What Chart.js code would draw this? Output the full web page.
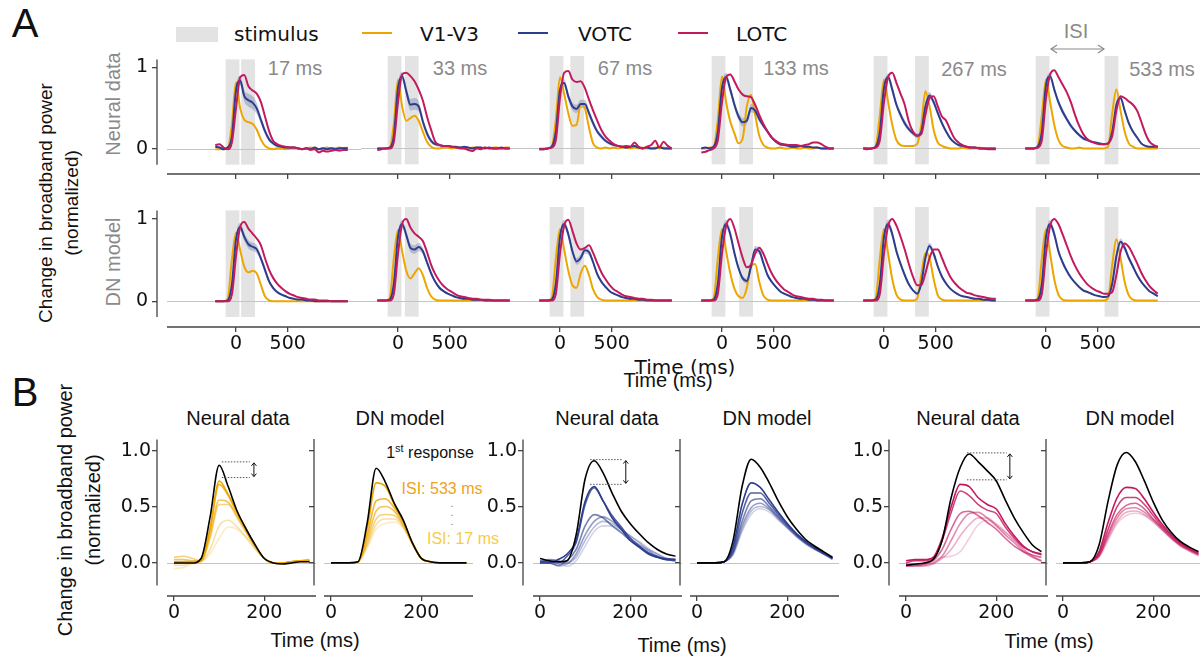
<!DOCTYPE html>
<html>
<head>
<meta charset="utf-8">
<script src="https://cdn.jsdelivr.net/npm/chart.js@4.4.1/dist/chart.umd.min.js"></script>
<style>
  body { margin: 0; background: #fff; }
  #fig { position: relative; width: 1200px; height: 657px; overflow: hidden; font-family: 'Liberation Sans', Arial, sans-serif; color: #111; }
  canvas { position: absolute; }
  .t { position: absolute; white-space: nowrap; line-height: 1; }
  .c { transform: translate(-50%, -50%); }
  .r { transform: translate(-50%, -50%) rotate(-90deg); }
  .lc { transform: translateY(-50%); }
  .dv { font-family: 'DejaVu Sans', sans-serif; }
  .gray { color: #8a8a8a; }
</style>
</head>
<body>
<div id="fig">
  <div class="t c" style="left:25px;top:23px;font-size:40px">A</div>
  <div class="t c" style="left:25px;top:392px;font-size:40px">B</div>

  <!-- legend -->
  <div class="t" style="left:176px;top:27px;width:42px;height:15px;background:#e3e3e3"></div>
  <div class="t lc dv" style="left:234px;top:34px;font-size:20px">stimulus</div>
  <div class="t" style="left:362px;top:32px;width:30px;height:2px;background:#EDA600"></div>
  <div class="t lc dv" style="left:420px;top:34px;font-size:20px">V1-V3</div>
  <div class="t" style="left:518px;top:32px;width:30px;height:2px;background:#2D3D8E"></div>
  <div class="t lc dv" style="left:578px;top:34px;font-size:20px">VOTC</div>
  <div class="t" style="left:678px;top:32px;width:30px;height:2px;background:#C31A5E"></div>
  <div class="t lc dv" style="left:736px;top:34px;font-size:20px">LOTC</div>

  <!-- panel A labels -->
  <div class="t r" style="left:45px;top:203px;font-size:19px">Change in broadband power</div>
  <div class="t r" style="left:71px;top:203px;font-size:19px">(normalized)</div>
  <div class="t r gray" style="left:113px;top:104px;font-size:20px">Neural data</div>
  <div class="t r gray" style="left:113px;top:262px;font-size:20px">DN model</div>
  <div class="t c gray" style="left:295px;top:68px;font-size:20px">17 ms</div>
  <div class="t c gray" style="left:460px;top:68px;font-size:20px">33 ms</div>
  <div class="t c gray" style="left:625px;top:68px;font-size:20px">67 ms</div>
  <div class="t c gray" style="left:796px;top:68px;font-size:20px">133 ms</div>
  <div class="t c gray" style="left:974px;top:69px;font-size:20px">267 ms</div>
  <div class="t c gray" style="left:1162px;top:69px;font-size:20px">533 ms</div>
  <div class="t c gray" style="left:1076px;top:31px;font-size:20px">ISI</div>
  <svg style="position:absolute;left:1048px;top:43px" width="60" height="12">
    <line x1="3" y1="6" x2="56" y2="6" stroke="#8a8a8a" stroke-width="1.2"/>
    <polyline points="9,2 3,6 9,10" fill="none" stroke="#8a8a8a" stroke-width="1.2"/>
    <polyline points="50,2 56,6 50,10" fill="none" stroke="#8a8a8a" stroke-width="1.2"/>
  </svg>
  <div class="t c dv" style="left:685px;top:367px;font-size:20px">Time (ms)</div>
  <div class="t c" style="left:668px;top:380px;font-size:20px">Time (ms)</div>

  <!-- panel B labels -->
  <div class="t r" style="left:65px;top:510px;font-size:20px">Change in broadband power</div>
  <div class="t r" style="left:93px;top:510px;font-size:20px">(normalized)</div>
  <div class="t c" style="left:238px;top:418px;font-size:20px">Neural data</div>
  <div class="t c" style="left:400px;top:418px;font-size:20px">DN model</div>
  <div class="t c" style="left:607px;top:418px;font-size:20px">Neural data</div>
  <div class="t c" style="left:767px;top:418px;font-size:20px">DN model</div>
  <div class="t c" style="left:968px;top:418px;font-size:20px">Neural data</div>
  <div class="t c" style="left:1130px;top:418px;font-size:20px">DN model</div>
  <div class="t c" style="left:315px;top:640px;font-size:20px">Time (ms)</div>
  <div class="t c" style="left:682px;top:645px;font-size:20px">Time (ms)</div>
  <div class="t c" style="left:1049px;top:641px;font-size:20px">Time (ms)</div>
  <div class="t c" style="left:430px;top:452px;font-size:16px">1<sup style="font-size:11px">st</sup> response</div>
  <div class="t c" style="left:442px;top:489px;font-size:16px;color:#EFA21A">ISI: 533 ms</div>
  <div class="t c" style="left:463px;top:539px;font-size:16px;color:#F6CC45">ISI: 17 ms</div>
  <div class="t c" style="left:452px;top:512px;font-size:10px;color:#777;line-height:0.9">.<br>.<br>.</div>
</div>

<script>
// ---------- data ----------
const tA = [-200,-160,-120,-80,-40,0,40,80,120,160,200,240,280,320,360,400,440,480,520,560,600,640,680,720,760,800,840,880,920,960,1000,1040,1080];
const isiMs = [17, 33, 67, 133, 267, 533];
const stimOnset = -100;
const stimDur = 133;

// Panel A, neural data (rows = ISI 17..533)
const neuralV1 = [
  [0,0,0,0.01,0.3, 0.82,0.5,0.36,0.33,0.31, 0.24,0.12,0.04,0.01,0, 0.01,0.01,0,0.01,0.02, 0.01,0,0.01,0.02,0.01, 0,0.01,0.02,0.01,0.01, 0.02,0.01,0.02],
  [0,0,0,0.01,0.3, 0.82,0.5,0.33,0.36,0.39, 0.33,0.2,0.08,0.02,0, 0,0.01,0.01,0,0.01, 0.01,0,0,0.01,0.01, 0,0.01,0,0.01,0.01, 0,0.01,0.01],
  [0,0,0,0.02,0.35, 0.85,0.65,0.42,0.27,0.28, 0.53,0.48,0.25,0.06,0.01, 0,0.01,0,0.01,0, 0.01,0.01,0,0.01,0, 0.01,0,0,0.01,0, 0.01,0,0],
  [0,0,0.01,0.02,0.35, 0.86,0.55,0.32,0.18,0.06, 0.12,0.5,0.64,0.4,0.15, 0.04,0.01,0,0,0.01, 0,0,0.01,0,0, 0.01,0,0,0.01,0, 0,0,0],
  [0.01,0,0,0.03,0.4, 0.82,0.55,0.28,0.1,0.04, 0.03,0.03,0.03,0.05,0.28, 0.68,0.5,0.22,0.07,0.03, 0.01,0,0,0,0.01, 0,0,0,0.01,0, 0,0,0],
  [0,0,0,0.03,0.4, 0.82,0.55,0.28,0.1,0.03, 0.01,0,0,0.01,0, 0,0,0,0,0, 0.02,0.42,0.7,0.45,0.2, 0.06,0.02,0,0,0, 0,0,0]
];
const neuralVOTC = [
  [0.03,0.02,0,0.02,0.15, 0.72,0.84,0.65,0.6,0.57, 0.5,0.36,0.22,0.12,0.07, 0.04,0.03,0.02,0.02,0.02, 0.01,0,0.01,0,0.02, 0,0.01,0,0.01,0, 0.01,0.01,0.01],
  [0,0,0,0.01,0.15, 0.72,0.86,0.68,0.52,0.53, 0.5,0.32,0.18,0.09,0.05, 0.04,0.03,0.03,0.02,0.02, 0.01,0.02,0.01,0,0.01, 0.01,0,0.01,0,0, 0.01,0,0],
  [-0.01,-0.01,0,0.02,0.2, 0.7,0.78,0.62,0.5,0.47, 0.53,0.53,0.42,0.3,0.2, 0.14,0.09,0.06,0.04,0.03, 0.02,0.01,0.02,0.03,0.01, 0,0.01,0,0,0.02, 0,0,0],
  [0,0.01,0,0.02,0.2, 0.72,0.85,0.7,0.52,0.38, 0.31,0.33,0.48,0.45,0.35, 0.27,0.2,0.13,0.08,0.05, 0.04,0.03,0.02,0.02,0.03, 0.02,0.02,0.01,0.01,0, 0,0,0],
  [0,0,0,0.02,0.2, 0.72,0.85,0.7,0.52,0.4, 0.3,0.23,0.18,0.15,0.2, 0.5,0.63,0.55,0.42,0.3, 0.2,0.12,0.07,0.04,0.03, 0.02,0.01,0.01,0,0, 0,0,0],
  [0,0,0,0.02,0.2, 0.75,0.86,0.7,0.55,0.44, 0.35,0.27,0.21,0.16,0.12, 0.1,0.08,0.07,0.06,0.05, 0.06,0.2,0.52,0.6,0.45, 0.3,0.2,0.13,0.06,0.03, 0.02,0.02,0.02]
];
const neuralLOTC = [
  [0.05,0.06,0.02,0,0.08, 0.5,0.88,0.91,0.77,0.72, 0.68,0.58,0.4,0.22,0.1, 0.06,0.04,0.03,0.02,0.02, 0.01,0,0.01,-0.01,0, -0.04,-0.02,-0.03,-0.02,-0.01, -0.02,-0.01,-0.01],
  [-0.02,-0.01,0,0,0.08, 0.55,0.88,0.9,0.86,0.8, 0.7,0.57,0.38,0.22,0.08, 0.04,0.03,0.03,0.02,0.01, 0,0,-0.02,-0.03,0, -0.01,0.01,0,0,0, 0,0,0],
  [-0.01,-0.01,0,0.01,0.1, 0.6,0.9,0.92,0.82,0.79, 0.8,0.72,0.58,0.45,0.33, 0.22,0.14,0.09,0.05,0.03, 0.02,0.03,0.02,0.07,0.02, 0,0.02,0.04,0.09,0.01, 0.08,0.03,0],
  [-0.05,-0.04,-0.02,0,0.1, 0.55,0.85,0.88,0.8,0.7, 0.64,0.62,0.61,0.52,0.4, 0.29,0.2,0.13,0.09,0.06, 0.05,0.04,0.04,0.04,0.03, 0.04,0.05,0.07,0.07,0.05, 0.02,0,0],
  [0,-0.01,0,0.01,0.1, 0.55,0.85,0.9,0.78,0.65, 0.52,0.32,0.2,0.15,0.17, 0.4,0.6,0.62,0.5,0.38, 0.33,0.22,0.12,0.07,0.04, 0.02,0.01,0.01,0,0, -0.01,-0.01,-0.01],
  [0,0,0,0.01,0.1, 0.6,0.88,0.93,0.85,0.76, 0.67,0.55,0.4,0.27,0.17, 0.11,0.08,0.06,0.05,0.05, 0.06,0.15,0.45,0.62,0.6, 0.56,0.52,0.45,0.32,0.18, 0.08,0.04,0.02]
];
const neuralVOTCsem = [
  [0.01,0.01,0.01,0.01,0.03, 0.05,0.06,0.07,0.08,0.08, 0.07,0.05,0.04,0.03,0.02, 0.02,0.01,0.01,0.01,0.01, 0.01,0.01,0.01,0.01,0.01, 0.01,0.01,0.01,0.01,0.01, 0.01,0.01,0.01],
  [0.01,0.01,0.01,0.01,0.03, 0.05,0.05,0.06,0.07,0.07, 0.06,0.05,0.04,0.03,0.02, 0.02,0.01,0.01,0.01,0.01, 0.01,0.01,0.01,0.01,0.01, 0.01,0.01,0.01,0.01,0.01, 0.01,0.01,0.01],
  [0.01,0.01,0.01,0.01,0.03, 0.04,0.05,0.05,0.05,0.05, 0.05,0.05,0.05,0.04,0.03, 0.03,0.02,0.02,0.01,0.01, 0.01,0.01,0.01,0.01,0.01, 0.01,0.01,0.01,0.01,0.01, 0.01,0.01,0.01],
  [0.01,0.01,0.01,0.01,0.03, 0.04,0.05,0.05,0.05,0.05, 0.05,0.04,0.05,0.05,0.04, 0.03,0.02,0.02,0.01,0.01, 0.01,0.01,0.01,0.01,0.01, 0.01,0.01,0.01,0.01,0.01, 0.01,0.01,0.01],
  [0.01,0.01,0.01,0.01,0.03, 0.04,0.04,0.05,0.04,0.04, 0.04,0.03,0.03,0.03,0.03, 0.04,0.04,0.04,0.03,0.03, 0.02,0.02,0.01,0.01,0.01, 0.01,0.01,0.01,0.01,0.01, 0.01,0.01,0.01],
  [0.01,0.01,0.01,0.01,0.03, 0.04,0.04,0.04,0.04,0.04, 0.03,0.03,0.02,0.02,0.02, 0.02,0.01,0.01,0.01,0.01, 0.01,0.02,0.03,0.03,0.03, 0.03,0.02,0.02,0.01,0.01, 0.01,0.01,0.01]
];

// Panel A, DN model
const modelV1 = [
  [0,0,0,0.03,0.5, 0.83,0.62,0.42,0.35,0.37, 0.34,0.2,0.06,0.01,0, 0,0,0,0,0, 0,0,0,0,0, 0,0,0,0,0, 0,0,0],
  [0,0,0,0.03,0.5, 0.83,0.58,0.35,0.26,0.32, 0.38,0.3,0.15,0.05,0.01, 0,0,0,0,0, 0,0,0,0,0, 0,0,0,0,0, 0,0,0],
  [0,0,0,0.03,0.5, 0.84,0.6,0.35,0.18,0.15, 0.32,0.41,0.3,0.13,0.04, 0.01,0,0,0,0, 0,0,0,0,0, 0,0,0,0,0, 0,0,0],
  [0,0,0,0.03,0.5, 0.84,0.58,0.32,0.14,0.05, 0.03,0.15,0.4,0.43,0.22, 0.06,0.01,0,0,0, 0,0,0,0,0, 0,0,0,0,0, 0,0,0],
  [0,0,0,0.03,0.5, 0.84,0.55,0.25,0.07,0.01, 0,0,0,0.02,0.3, 0.56,0.5,0.25,0.06,0.01, 0,0,0,0,0, 0,0,0,0,0, 0,0,0],
  [0,0,0,0.03,0.5, 0.84,0.55,0.25,0.07,0.01, 0,0,0,0,0, 0,0,0,0,0, 0.03,0.42,0.72,0.5,0.22, 0.06,0.01,0,0,0, 0,0,0]
];
const modelVOTC = [
  [0,0,0,0.01,0.2, 0.75,0.9,0.78,0.69,0.66, 0.63,0.52,0.38,0.24,0.16, 0.11,0.08,0.06,0.04,0.03, 0.02,0.02,0.01,0.01,0, 0,0,0,0,0, 0,0,0],
  [0,0,0,0.01,0.2, 0.75,0.9,0.77,0.62,0.6, 0.63,0.58,0.45,0.32,0.22, 0.15,0.11,0.08,0.06,0.04, 0.03,0.02,0.02,0.01,0.01, 0.01,0,0,0,0, 0,0,0],
  [0,0,0,0.01,0.2, 0.75,0.9,0.78,0.58,0.46, 0.5,0.59,0.57,0.45,0.31, 0.22,0.16,0.11,0.08,0.06, 0.04,0.03,0.02,0.02,0.01, 0.01,0,0,0,0, 0,0,0],
  [0,0,0,0.01,0.2, 0.75,0.9,0.78,0.56,0.38, 0.26,0.23,0.4,0.6,0.58, 0.44,0.3,0.22,0.16,0.11, 0.08,0.06,0.04,0.03,0.02, 0.02,0.01,0.01,0,0, 0,0,0],
  [0,0,0,0.01,0.2, 0.75,0.9,0.78,0.58,0.43, 0.3,0.19,0.12,0.08,0.2, 0.5,0.64,0.55,0.4,0.28, 0.2,0.14,0.1,0.07,0.05, 0.04,0.03,0.02,0.02,0.01, 0.01,0,0],
  [0,0,0,0.01,0.2, 0.75,0.9,0.78,0.58,0.45, 0.35,0.27,0.21,0.16,0.12, 0.1,0.08,0.06,0.05,0.04, 0.05,0.2,0.52,0.69,0.62, 0.5,0.4,0.3,0.22,0.16, 0.11,0.08,0.05]
];
const modelLOTC = [
  [0,0,0,0,0.08, 0.55,0.9,0.96,0.88,0.82, 0.76,0.68,0.52,0.38,0.28, 0.21,0.16,0.12,0.09,0.07, 0.05,0.04,0.03,0.02,0.02, 0.01,0.01,0.01,0,0, 0,0,0],
  [0,0,0,0,0.08, 0.55,0.9,0.96,0.86,0.79, 0.75,0.7,0.57,0.42,0.31, 0.23,0.17,0.13,0.1,0.07, 0.05,0.04,0.03,0.02,0.02, 0.01,0.01,0.01,0,0, 0,0,0],
  [0,0,0,0,0.08, 0.55,0.88,0.95,0.82,0.67, 0.6,0.62,0.65,0.56,0.44, 0.33,0.25,0.18,0.13,0.1, 0.07,0.05,0.04,0.03,0.02, 0.02,0.01,0.01,0,0, 0,0,0],
  [0,0,0,0,0.08, 0.55,0.88,0.96,0.85,0.67, 0.5,0.39,0.42,0.55,0.62, 0.55,0.43,0.32,0.24,0.18, 0.13,0.1,0.07,0.05,0.04, 0.03,0.02,0.02,0.01,0.01, 0,0,0],
  [0,0,0,0,0.08, 0.55,0.88,0.96,0.88,0.75, 0.6,0.43,0.28,0.18,0.18, 0.32,0.5,0.6,0.6,0.5, 0.38,0.28,0.21,0.16,0.12, 0.09,0.08,0.06,0.05,0.04, 0.03,0.02,0.02],
  [0,0,0,0,0.08, 0.55,0.88,0.96,0.9,0.78, 0.65,0.52,0.41,0.32,0.25, 0.19,0.15,0.12,0.1,0.08, 0.08,0.1,0.3,0.57,0.67, 0.63,0.54,0.44,0.33,0.24, 0.17,0.12,0.08]
];
const modelVOTCsem = [
  [0,0,0,0,0.02, 0.04,0.05,0.05,0.05,0.05, 0.05,0.04,0.04,0.03,0.02, 0.02,0.01,0.01,0.01,0.01, 0.01,0.01,0.01,0,0, 0,0,0,0,0, 0,0,0],
  [0,0,0,0,0.02, 0.04,0.05,0.05,0.05,0.05, 0.05,0.04,0.04,0.03,0.02, 0.02,0.01,0.01,0.01,0.01, 0.01,0.01,0.01,0,0, 0,0,0,0,0, 0,0,0],
  [0,0,0,0,0.02, 0.04,0.05,0.05,0.04,0.04, 0.04,0.04,0.04,0.03,0.03, 0.02,0.02,0.01,0.01,0.01, 0.01,0.01,0,0,0, 0,0,0,0,0, 0,0,0],
  [0,0,0,0,0.02, 0.04,0.05,0.05,0.04,0.03, 0.03,0.03,0.03,0.04,0.04, 0.03,0.02,0.02,0.01,0.01, 0.01,0.01,0,0,0, 0,0,0,0,0, 0,0,0],
  [0,0,0,0,0.02, 0.04,0.05,0.05,0.04,0.03, 0.02,0.02,0.01,0.01,0.02, 0.03,0.04,0.04,0.03,0.02, 0.02,0.01,0.01,0.01,0, 0,0,0,0,0, 0,0,0],
  [0,0,0,0,0.02, 0.04,0.05,0.05,0.04,0.03, 0.02,0.02,0.01,0.01,0.01, 0.01,0.01,0.01,0,0, 0.01,0.02,0.04,0.04,0.04, 0.03,0.03,0.02,0.02,0.01, 0.01,0.01,0.01]
];

// Panel B: first response (black) and 2nd responses per ISI (rows 17..533)
const tB = [0,20,40,60,80,100,120,140,160,180,200,220,240,260,280,300];
const bNeuralV1First = [0,0,0,0.04,0.41,0.87,0.68,0.46,0.3,0.16,0.04,0,-0.01,0,0.01,0.01];
const bNeuralV1 = [
  [-0.05,-0.04,-0.01,0.01,0.08,0.22,0.32,0.3,0.22,0.12,0.04,0,0,0,0.01,0.01],
  [-0.02,-0.02,0,0.01,0.12,0.33,0.38,0.32,0.23,0.13,0.04,0,0,0.01,0.01,0.02],
  [0.05,0.06,0.04,0.02,0.22,0.52,0.52,0.4,0.27,0.14,0.04,0,0,0.01,0.02,0.02],
  [0.03,0.03,0.02,0.02,0.25,0.56,0.54,0.42,0.28,0.15,0.04,0,0,0.01,0.02,0.02],
  [0,0.01,0.01,0.02,0.3,0.7,0.6,0.44,0.29,0.15,0.04,0,0,0.01,0.02,0.03],
  [0.01,0.01,0.01,0.02,0.31,0.73,0.61,0.45,0.3,0.15,0.04,0,0,0.01,0.02,0.02]
];
const bModelV1First = [0,0,0,0.01,0.35,0.84,0.72,0.53,0.38,0.18,0.04,0.01,0,0,0,0];
const bModelV1 = [
  [0,0,0,0.01,0.13,0.3,0.35,0.36,0.31,0.17,0.04,0.01,0,0,0,0],
  [0,0,0,0.01,0.15,0.34,0.39,0.39,0.32,0.17,0.04,0.01,0,0,0,0],
  [0,0,0,0.01,0.17,0.39,0.43,0.42,0.33,0.17,0.04,0.01,0,0,0,0],
  [0,0,0,0.01,0.2,0.46,0.5,0.46,0.34,0.18,0.04,0.01,0,0,0,0],
  [0,0,0,0.01,0.24,0.55,0.57,0.49,0.36,0.18,0.04,0.01,0,0,0,0],
  [0,0,0,0.01,0.3,0.71,0.68,0.52,0.37,0.18,0.04,0.01,0,0,0,0]
];
const bNeuralVOTCFirst = [0.04,0.02,0.01,0.02,0.25,0.75,0.91,0.8,0.62,0.46,0.35,0.26,0.18,0.12,0.08,0.06];
const bNeuralVOTC = [
  [0.01,0.03,0.02,-0.03,0.02,0.15,0.28,0.33,0.33,0.29,0.24,0.19,0.13,0.08,0.04,0.03],
  [0,0.02,-0.03,-0.01,0.05,0.2,0.32,0.37,0.35,0.3,0.24,0.18,0.12,0.08,0.04,0.03],
  [0,0.03,0.02,0,0.08,0.25,0.37,0.41,0.37,0.3,0.22,0.16,0.11,0.06,0.03,0.02],
  [0.01,0,-0.02,0.02,0.12,0.33,0.43,0.4,0.33,0.27,0.2,0.14,0.09,0.06,0.03,0.02],
  [0.02,0.01,0,0.06,0.18,0.52,0.67,0.55,0.42,0.32,0.22,0.15,0.09,0.05,0.04,0.03],
  [0,0,0.03,0.08,0.2,0.55,0.68,0.55,0.4,0.3,0.2,0.14,0.08,0.05,0.03,0.03]
];
const bModelVOTCFirst = [0,0,0,0.01,0.2,0.68,0.92,0.85,0.71,0.55,0.41,0.3,0.21,0.15,0.1,0.05];
const bModelVOTC = [
  [0,0,0,0.01,0.07,0.28,0.43,0.48,0.45,0.38,0.31,0.23,0.17,0.12,0.08,0.03],
  [0,0,0,0.01,0.08,0.3,0.46,0.5,0.47,0.39,0.31,0.24,0.17,0.12,0.08,0.03],
  [0,0,0,0.01,0.09,0.33,0.49,0.53,0.48,0.4,0.32,0.24,0.18,0.13,0.08,0.04],
  [0,0,0,0.01,0.1,0.37,0.55,0.57,0.5,0.41,0.33,0.25,0.18,0.13,0.08,0.04],
  [0,0,0,0.01,0.12,0.44,0.62,0.62,0.53,0.43,0.34,0.26,0.19,0.13,0.09,0.04],
  [0,0,0,0.01,0.15,0.52,0.71,0.67,0.56,0.45,0.35,0.26,0.19,0.14,0.09,0.04]
];
const bNeuralLOTCFirst = [-0.02,-0.01,0,0.03,0.2,0.58,0.85,0.97,0.9,0.82,0.73,0.56,0.4,0.27,0.16,0.1];
const bNeuralLOTC = [
  [-0.03,-0.02,-0.01,0.02,0.05,0.06,0.1,0.22,0.34,0.38,0.35,0.28,0.2,0.12,0.06,0.01],
  [-0.01,-0.02,-0.03,-0.01,0.04,0.12,0.24,0.34,0.4,0.4,0.34,0.27,0.2,0.12,0.06,0.02],
  [-0.02,-0.03,-0.02,0,0.06,0.2,0.35,0.44,0.45,0.4,0.33,0.25,0.18,0.1,0.05,0.02],
  [-0.03,-0.02,-0.01,0.02,0.12,0.3,0.44,0.46,0.42,0.36,0.3,0.22,0.15,0.1,0.07,0.05],
  [0,0.02,0.02,0.04,0.2,0.45,0.64,0.6,0.52,0.47,0.44,0.32,0.22,0.14,0.1,0.07],
  [0.02,0.03,0.03,0.05,0.22,0.5,0.7,0.68,0.58,0.52,0.48,0.35,0.24,0.15,0.1,0.08]
];
const bModelLOTCFirst = [0,0,0,0.01,0.16,0.55,0.87,0.98,0.9,0.73,0.54,0.38,0.27,0.19,0.14,0.1];
const bModelLOTC = [
  [0,0,0,0.01,0.05,0.2,0.35,0.42,0.44,0.42,0.36,0.29,0.21,0.15,0.1,0.06],
  [0,0,0,0.01,0.06,0.22,0.37,0.45,0.46,0.43,0.37,0.29,0.22,0.15,0.11,0.07],
  [0,0,0,0.01,0.06,0.24,0.4,0.48,0.49,0.45,0.38,0.3,0.22,0.16,0.11,0.07],
  [0,0,0,0.01,0.07,0.26,0.43,0.51,0.53,0.48,0.39,0.31,0.23,0.16,0.12,0.08],
  [0,0,0,0.01,0.08,0.3,0.5,0.58,0.58,0.52,0.42,0.32,0.24,0.17,0.12,0.08],
  [0,0,0,0.01,0.1,0.36,0.58,0.67,0.66,0.57,0.45,0.34,0.25,0.18,0.13,0.09]
];

// ---------- styling ----------
const ORANGE = '#EDA600', BLUE = '#2D3D8E', RED = '#C31A5E';
const ORANGE_RGB = '237,166,0', BLUE_RGB = '45,61,142', RED_RGB = '195,26,94';
const shade = [0.22, 0.35, 0.5, 0.65, 0.82, 1];   // ISI 17 -> 533
const AXIS = '#444';
const TICK_FONT = { family: 'DejaVu Sans', size: 19 };
const fig = document.getElementById('fig');

[...neuralV1, ...neuralVOTC, ...neuralLOTC, ...neuralVOTCsem, ...modelV1, ...modelVOTC, ...modelLOTC, ...modelVOTCsem].forEach((a, i) => {
  if (a.length !== tA.length) throw new Error('panel A array ' + i + ' has ' + a.length);
});

const figPlugin = {
  id: 'fig',
  beforeDatasetsDraw(chart, args, o) {
    const { ctx, chartArea: a, scales: { x, y } } = chart;
    ctx.save();
    ctx.fillStyle = '#e3e3e3';
    (o.stim || []).forEach(([s, e]) => {
      const x0 = x.getPixelForValue(s), x1 = x.getPixelForValue(e);
      const y0 = y.getPixelForValue(o.yTop), y1 = y.getPixelForValue(o.yBot);
      ctx.fillRect(x0, y0, x1 - x0, y1 - y0);
    });
    const zy = Math.round(y.getPixelForValue(0)) + 0.5;
    ctx.strokeStyle = '#c4c4c4';
    ctx.lineWidth = 1.2;
    ctx.beginPath(); ctx.moveTo(a.left + o.off, zy); ctx.lineTo(a.right, zy); ctx.stroke();
    ctx.restore();
  },
  afterDraw(chart, args, o) {
    const { ctx, chartArea: a, scales: { x, y } } = chart;
    ctx.save();
    ctx.strokeStyle = AXIS;
    ctx.lineWidth = 1.3;
    ctx.beginPath();
    ctx.moveTo(a.left + o.off, a.bottom); ctx.lineTo(a.right, a.bottom);
    if (o.ySpine) {
      ctx.moveTo(a.left, y.getPixelForValue(o.yTop)); ctx.lineTo(a.left, y.getPixelForValue(o.yBot));
    }
    ctx.stroke();
    if (o.annot) {
      const [x1, x2, xa, yt, yb] = o.annot;
      const px1 = x.getPixelForValue(x1), px2 = x.getPixelForValue(x2), pxa = x.getPixelForValue(xa);
      const pyt = y.getPixelForValue(yt), pyb = y.getPixelForValue(yb);
      ctx.strokeStyle = '#555'; ctx.lineWidth = 1; ctx.setLineDash([1.5, 1.5]);
      ctx.beginPath();
      ctx.moveTo(px1, pyt); ctx.lineTo(px2, pyt);
      ctx.moveTo(px1, pyb); ctx.lineTo(px2, pyb);
      ctx.stroke();
      ctx.setLineDash([]);
      ctx.strokeStyle = '#111';
      ctx.beginPath();
      ctx.moveTo(pxa, pyt + 1); ctx.lineTo(pxa, pyb - 1);
      ctx.moveTo(pxa - 2.5, pyt + 4); ctx.lineTo(pxa, pyt + 1); ctx.lineTo(pxa + 2.5, pyt + 4);
      ctx.moveTo(pxa - 2.5, pyb - 4); ctx.lineTo(pxa, pyb - 1); ctx.lineTo(pxa + 2.5, pyb - 4);
      ctx.stroke();
    }
    ctx.restore();
  }
};

function line(ts, vals, color, width, order) {
  return {
    data: ts.map((t, k) => ({ x: t, y: vals[k] })),
    borderColor: color, borderWidth: width, pointRadius: 0, fill: false,
    cubicInterpolationMode: 'monotone', order
  };
}

function band(ts, mean, sem, rgb, alpha) {
  const up = ts.map((t, k) => ({ x: t, y: mean[k] + sem[k] }));
  const lo = ts.map((t, k) => ({ x: t, y: mean[k] - sem[k] }));
  return [
    { data: up, borderWidth: 0, pointRadius: 0, fill: '+1', backgroundColor: 'rgba(' + rgb + ',' + alpha + ')', cubicInterpolationMode: 'monotone', order: 10 },
    { data: lo, borderWidth: 0, pointRadius: 0, fill: false, cubicInterpolationMode: 'monotone', order: 11 }
  ];
}

// o: chart area in page px + scale ranges
function makeChart(o) {
  const padT = 12, padR = 2;
  const yW = o.yAxis ? o.yW : 0;
  const c = document.createElement('canvas');
  c.width = yW + o.width + padR;
  c.height = padT + o.height + o.xH;
  c.style.left = (o.left - yW) + 'px';
  c.style.top = (o.top - padT) + 'px';
  fig.appendChild(c);
  new Chart(c, {
    type: 'line',
    data: { datasets: o.datasets },
    plugins: [figPlugin],
    options: {
      responsive: false, animation: false, devicePixelRatio: 1, events: [],
      layout: { padding: { top: padT, right: padR, left: 0, bottom: 0 } },
      plugins: {
        legend: { display: false }, tooltip: { enabled: false },
        fig: { stim: o.stim, yTop: o.yTop, yBot: o.yBot, off: o.off, ySpine: o.yAxis, annot: o.annot }
      },
      scales: {
        x: {
          type: 'linear', min: o.xMin, max: o.xMax,
          afterBuildTicks: s => { s.ticks = o.xTicks.map(v => ({ value: v })); },
          afterFit: s => { s.height = o.xH; },
          grid: { drawOnChartArea: false, tickLength: 5, color: AXIS, lineWidth: 1.3 },
          border: { display: false },
          ticks: { display: o.xLabels, font: TICK_FONT, color: '#111', padding: 1, maxRotation: 0, autoSkip: false, callback: v => String(v) }
        },
        y: {
          display: o.yAxis, type: 'linear', min: o.yMin, max: o.yMax,
          afterBuildTicks: s => { s.ticks = o.yTicks.map(v => ({ value: v })); },
          afterFit: s => { s.width = yW; },
          grid: { drawOnChartArea: false, tickLength: 5, color: AXIS, lineWidth: 1.3 },
          border: { display: false },
          ticks: { display: o.yLabels, font: TICK_FONT, color: '#111', padding: o.yPad, callback: o.yFmt }
        }
      }
    }
  });
}

// ---------- panel A ----------
const kA = 0.1035;                                  // px per ms
const zeroA = [236, 398, 560, 722, 884, 1046];      // page x of t = 0 in each column
const rowsA = [
  { top: 56, h: 118, k: 84, v1: neuralV1, votc: neuralVOTC, lotc: neuralLOTC, sem: neuralVOTCsem, xLabels: false, xH: 18 },
  { top: 207, h: 120, k: 85, v1: modelV1, votc: modelVOTC, lotc: modelLOTC, sem: modelVOTCsem, xLabels: true, xH: 34 }
];
isiMs.forEach((isi, i) => {
  const left = i === 0 ? 157 : zeroA[i] - 37;
  const right = i === 5 ? 1200 : zeroA[i] + 125;
  const s2 = stimOnset + stimDur + isi;
  rowsA.forEach(row => {
    makeChart({
      left, top: row.top, width: right - left, height: row.h,
      xMin: (left - zeroA[i]) / kA, xMax: (right - zeroA[i]) / kA,
      yMax: 1.1, yMin: 1.1 - row.h / row.k,
      xTicks: [0, 500], yTicks: [0, 1], xLabels: row.xLabels, xH: row.xH,
      yAxis: i === 0, yW: 40, yLabels: true, yPad: 4, yFmt: v => String(v),
      off: i === 0 ? 10 : 0, yTop: 1.1, yBot: -0.19,
      stim: [[stimOnset, stimOnset + stimDur], [s2, s2 + stimDur]],
      datasets: [
        line(tA, row.lotc[i], RED, 2, 1),
        line(tA, row.votc[i], BLUE, 2, 2),
        line(tA, row.v1[i], ORANGE, 2, 3),
        ...band(tA, row.votc[i], row.sem[i], BLUE_RGB, 0.25)
      ]
    });
  });
});

// ---------- panel B ----------
const kB = 0.4515;
const zeroB = [174, 331, 540, 697, 906, 1063];
const panelsB = [
  { first: bNeuralV1First, rest: bNeuralV1, rgb: ORANGE_RGB, labels: true, annot: [106, 168, 177, 0.9, 0.76] },
  { first: bModelV1First, rest: bModelV1, rgb: ORANGE_RGB, labels: false },
  { first: bNeuralVOTCFirst, rest: bNeuralVOTC, rgb: BLUE_RGB, labels: true, annot: [111, 184, 190, 0.92, 0.7] },
  { first: bModelVOTCFirst, rest: bModelVOTC, rgb: BLUE_RGB, labels: false },
  { first: bNeuralLOTCFirst, rest: bNeuralLOTC, rgb: RED_RGB, labels: true, annot: [135, 223, 230, 0.98, 0.74] },
  { first: bModelLOTCFirst, rest: bModelLOTC, rgb: RED_RGB, labels: false }
];
panelsB.forEach((p, i) => {
  const left = zeroB[i] - 17, right = zeroB[i] + 142;
  const ds = [line(tB, p.first, '#000', 1.6, 0)];
  p.rest.forEach((vals, j) => ds.push(line(tB, vals, 'rgba(' + p.rgb + ',' + shade[j] + ')', 1.6, 6 - j)));
  makeChart({
    left, top: 439, width: right - left, height: 157,
    xMin: -17 / kB, xMax: 142 / kB, yMax: 1.1, yMin: 1.1 - 157 / 112.6,
    xTicks: [0, 200], yTicks: [0, 0.5, 1], xLabels: true, xH: 30,
    yAxis: true, yW: p.labels ? 50 : 7, yLabels: p.labels, yPad: 1, yFmt: v => v.toFixed(1),
    off: 10, yTop: 1.1, yBot: -0.2, stim: [], annot: p.annot,
    datasets: ds
  });
});
</script>
</body>
</html>
